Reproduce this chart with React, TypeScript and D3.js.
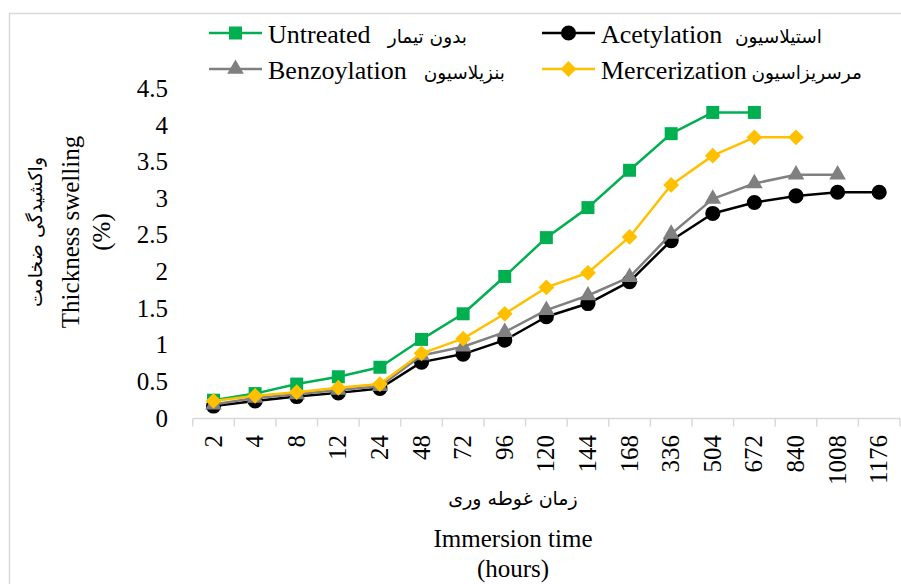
import * as d3 from "d3";

const hours = ["2", "4", "8", "12", "24", "48", "72", "96", "120", "144", "168", "336", "504", "672", "840", "1008", "1176"];
const untreated = [0.25, 0.34, 0.47, 0.57, 0.7, 1.08, 1.43, 1.94, 2.47, 2.88, 3.39, 3.89, 4.18, 4.18];
const acetylation = [0.17, 0.24, 0.3, 0.35, 0.41, 0.77, 0.88, 1.07, 1.39, 1.57, 1.87, 2.43, 2.8, 2.95, 3.04, 3.09, 3.09];
const benzoylation = [0.19, 0.28, 0.33, 0.39, 0.44, 0.86, 0.98, 1.18, 1.48, 1.68, 1.93, 2.52, 3.0, 3.21, 3.33, 3.33];
const mercerization = [0.24, 0.31, 0.36, 0.42, 0.47, 0.89, 1.09, 1.43, 1.79, 1.99, 2.48, 3.19, 3.59, 3.84, 3.84];
const yTicks = [0, 0.5, 1, 1.5, 2, 2.5, 3, 3.5, 4, 4.5];

const series = [
  { en: "Untreated", fa: "بدون تیمار", values: untreated, color: "#00B050", shape: "square" },
  { en: "Acetylation", fa: "استیلاسیون", values: acetylation, color: "#000000", shape: "circle" },
  { en: "Benzoylation", fa: "بنزیلاسیون", values: benzoylation, color: "#808080", shape: "triangle" },
  { en: "Mercerization", fa: "مرسریزاسیون", values: mercerization, color: "#FFC000", shape: "diamond" },
];

const serif = "'Liberation Serif', 'Times New Roman', serif";
const arabic = "'DejaVu Sans', sans-serif";

const x = d3.scaleBand<string>().domain(hours).range([192.7, 900]).padding(0);
const y = d3.scaleLinear().domain([0, 4.5]).range([418.5, 89]);

function marker(shape: string) {
  if (shape === "square") return { d: d3.symbol(d3.symbolSquare, 169)()!, rot: 0 };
  if (shape === "circle") return { d: d3.symbol(d3.symbolCircle, 180)()!, rot: 0 };
  if (shape === "triangle") return { d: d3.symbol(d3.symbolTriangle, 120)()!, rot: 0 };
  return { d: d3.symbol(d3.symbolSquare, 125)()!, rot: 45 };
}

// legend slots: [lineStart, arabicEnd, lineY, textBaseline]
const legendPos = [
  [209, 467, 33, 43],
  [542, 822, 33, 43],
  [209, 505, 69, 78.5],
  [542, 862, 69, 78.5],
];

export default function App() {
  const line = d3
    .line<number>()
    .x((_, i) => x(hours[i])! + x.bandwidth() / 2)
    .y((d) => y(d));
  const edges = hours.map((h) => x(h)!).concat([x.range()[1]]);

  return (
    <svg
      width={901}
      height={584}
      style={{ position: "absolute", left: 0, top: 0, background: "#fff" }}
      fontFamily={serif}
    >
      <rect x={9.5} y={13.5} width={1000} height={1000} fill="#fff" stroke="#D9D9D9" strokeWidth={1.5} />

      {/* x axis */}
      <line x1={x.range()[0]} x2={x.range()[1]} y1={y(0)} y2={y(0)} stroke="#D9D9D9" strokeWidth={1.5} />
      {edges.map((ex, i) => (
        <line key={i} x1={ex} x2={ex} y1={y(0)} y2={y(0) + 8} stroke="#D9D9D9" strokeWidth={1.5} />
      ))}
      {hours.map((h) => {
        const cx = x(h)! + x.bandwidth() / 2 + 8;
        return (
          <text key={h} x={cx} y={435} transform={`rotate(-90 ${cx} 435)`} textAnchor="end" fontSize={25} fill="#000">
            {h}
          </text>
        );
      })}

      {/* y axis labels */}
      {yTicks.map((t) => (
        <text key={t} x={168} y={y(t) + 8} textAnchor="end" fontSize={25} fill="#000">
          {t}
        </text>
      ))}

      {/* y title */}
      <text x={42} y={232} transform="rotate(-90 42 232)" textAnchor="middle" fontFamily={arabic} fontSize={19}>
        واکشیدگی ضخامت
      </text>
      <text x={79} y={232} transform="rotate(-90 79 232)" textAnchor="middle" fontSize={25}>
        Thickness swelling
      </text>
      <text x={110} y={232} transform="rotate(-90 110 232)" textAnchor="middle" fontSize={25}>
        (%)
      </text>

      {/* x title */}
      <text x={513} y={505} textAnchor="middle" fontFamily={arabic} fontSize={19}>
        زمان غوطه وری
      </text>
      <text x={513} y={547} textAnchor="middle" fontSize={25}>
        Immersion time
      </text>
      <text x={513} y={577} textAnchor="middle" fontSize={25}>
        (hours)
      </text>

      {/* series */}
      {series.map((s) => {
        const m = marker(s.shape);
        return (
          <g key={s.en}>
            <path d={line(s.values)!} fill="none" stroke={s.color} strokeWidth={2.5} strokeLinejoin="round" />
            {s.values.map((v, i) => (
              <path
                key={i}
                d={m.d}
                fill={s.color}
                transform={`translate(${x(hours[i])! + x.bandwidth() / 2},${y(v)}) rotate(${m.rot})`}
              />
            ))}
          </g>
        );
      })}

      {/* legend */}
      {series.map((s, i) => {
        const [lx, ae, ly, tb] = legendPos[i];
        const m = marker(s.shape);
        return (
          <g key={s.en}>
            <line x1={lx} x2={lx + 53} y1={ly} y2={ly} stroke={s.color} strokeWidth={2.5} />
            <path d={m.d} fill={s.color} transform={`translate(${lx + 26.5},${ly}) rotate(${m.rot})`} />
            <text x={lx + 59} y={tb} fontSize={26} fill="#000">
              {s.en}
            </text>
            <text x={ae} y={tb} textAnchor="end" fontFamily={arabic} fontSize={18.5} fill="#000">
              {s.fa}
            </text>
          </g>
        );
      })}
    </svg>
  );
}
